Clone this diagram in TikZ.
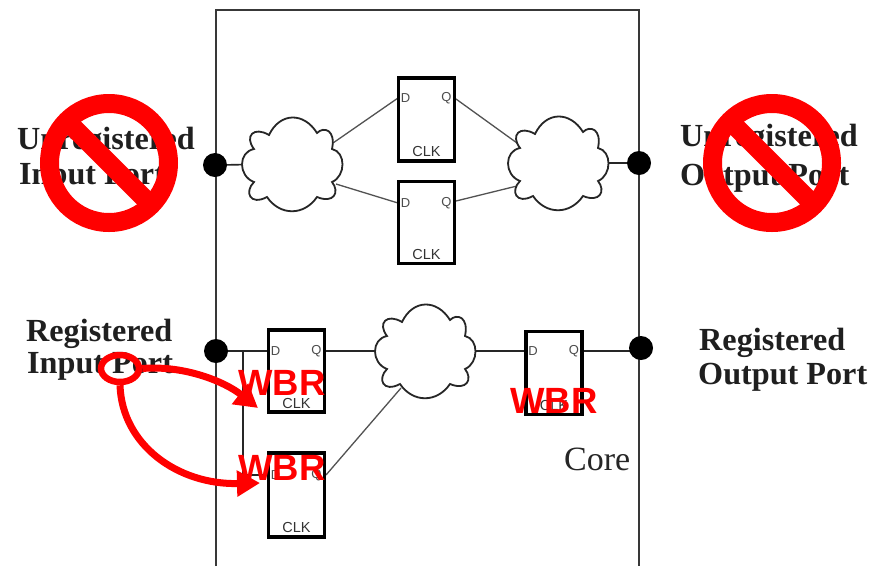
\documentclass[tikz,border=0pt]{standalone}
\usepackage{fontspec}
\setmainfont{Liberation Serif}
\setsansfont{Liberation Sans}
\usetikzlibrary{arrows.meta,shapes.geometric}
\tikzset{
  x=1pt,y=-1pt,
  wire/.style={line width=1.6pt,draw=black!85},
  thinwire/.style={line width=1.3pt,draw=black!68},
  corewall/.style={line width=2.2pt,draw=black!78},
  portdot/.style={circle,fill=black,inner sep=0pt,minimum size=24pt},
  ffbox/.style={draw=black,line width=3.4pt,fill=white,minimum width=56pt,inner sep=0pt,outer sep=0pt},
  pinlabel/.style={font=\fontsize{13}{13}\sffamily,text=black!70,inner sep=0pt},
  clklabel/.style={font=\fontsize{14.5}{14.5}\sffamily,text=black!80,inner sep=0pt},
  cloudline/.style={line width=1.8pt,draw=black!85,fill=white},
  cloudpic/.pic={\path[cloudline] (-23,-29) .. controls (-12,-52) and (12,-52) .. (25,-31)
    .. controls (32,-38) and (44,-34) .. (40,-15)
    .. controls (54,-12) and (54,12) .. (40,18)
    .. controls (48,28) and (42,40) .. (25,33)
    .. controls (12,52) and (-12,52) .. (-25,33)
    .. controls (-42,42) and (-48,28) .. (-38,18)
    .. controls (-54,12) and (-54,-12) .. (-38,-15)
    .. controls (-48,-28) and (-38,-38) .. (-23,-29) -- cycle;},
  porttext/.style={anchor=base west,inner sep=0pt,font=\fontsize{32.2}{32.2}\selectfont\bfseries,text=black!88},
  coretext/.style={anchor=base west,inner sep=0pt,font=\fontsize{34}{34}\selectfont,text=black!85},
  wbr/.style={font=\fontsize{36.5}{36.5}\sffamily\bfseries,text=red,inner sep=0pt},
  nosign/.style={circle,draw=red,line width=19pt,minimum size=119pt,inner sep=0pt,outer sep=0pt},
  nobar/.style={draw=red,line width=19pt},
  redmark/.style={draw=red,line width=6.5pt},
  redarrow/.style={draw=red,line width=7pt,-{Triangle[length=23pt,width=25pt]}},
}
\begin{document}
\begin{tikzpicture}
\useasboundingbox[fill=white] (0,0) rectangle (875,566);
% core outline
\coordinate (cbl) at (216,566);
\coordinate (ctl) at (216,10);
\coordinate (ctr) at (639,10);
\coordinate (cbr) at (639,566);
\draw[corewall] (cbl) -- (ctl) -- (ctr) -- (cbr);
% named points
\coordinate (pA) at (215,165);
\coordinate (pB) at (639,163);
\coordinate (pC) at (216,351);
\coordinate (pD) at (641,351);
\coordinate (cloudA) at (292,164);
\coordinate (cloudB) at (558,163);
\coordinate (cloudC) at (425,351);
\coordinate (cAne) at (333,143);
\coordinate (cAse) at (336,184);
\coordinate (cBnw) at (517,143);
\coordinate (cBsw) at (517,186);
\coordinate (cCsw) at (401,388);
\coordinate (ffAd) at (398,98);
\coordinate (ffAq) at (456,99);
\coordinate (ffBd) at (398,203);
\coordinate (ffBq) at (456,201);
\coordinate (ffCd) at (268,351);
\coordinate (ffCq) at (326,351);
\coordinate (ffDd) at (268,475);
\coordinate (ffDq) at (326,475);
\coordinate (ffEd) at (525,351);
\coordinate (ffEq) at (583,351);
\coordinate (branch) at (243,351);
\coordinate (branchb) at (243,475);
% wires
\draw[wire] (pA) -- (cloudA);
\draw[wire] (cloudB) -- (pB);
\draw[thinwire] (cAne) -- (ffAd);
\draw[thinwire] (cAse) -- (ffBd);
\draw[thinwire] (ffAq) -- (cBnw);
\draw[thinwire] (ffBq) -- (cBsw);
\draw[wire] (pC) -- (ffCd);
\draw[wire] (ffCq) -- (cloudC);
\draw[wire] (cloudC) -- (ffEd);
\draw[wire] (ffEq) -- (pD);
\draw[wire] (branch) -- (branchb) -- (ffDd);
\draw[thinwire] (ffDq) -- (cCsw);
% port dots
\node[portdot] (dotA) at (pA) {};
\node[portdot] (dotB) at (pB) {};
\node[portdot] (dotC) at (pC) {};
\node[portdot] (dotD) at (641,348) {};
% clouds
\pic at (cloudA) {cloudpic};
\pic at (cloudB) {cloudpic};
\pic at (cloudC) {cloudpic};
% flip-flops
\node[ffbox,minimum height=83pt] (ffA) at (426.5,119.5) {};
\node[ffbox,minimum height=82pt] (ffB) at (426.5,222.5) {};
\node[ffbox,minimum height=82pt] (ffC) at (296.5,371) {};
\node[ffbox,minimum height=84pt] (ffD) at (296.5,495) {};
\node[ffbox,minimum height=83pt] (ffE) at (554,373) {};
\foreach \f/\dy/\cy in {ffA/98/152,ffB/203/255,ffC/351/403,ffD/475/527,ffE/351/405}{
  \node[pinlabel] at ([xshift=-21pt]\f.center |- 0,\dy) {D};
  \node[pinlabel] at ([xshift=20pt]\f.center |- 0,\dy) {Q};
  \node[clklabel] at (\f.center |- 0,\cy) {CLK};
}
% labels
\node[porttext] (lblA) at (17,149) {Unregistered};
\node[porttext] (lblB) at (19,184) {Input Port};
\node[porttext] (lblC) at (680,146) {Unregistered};
\node[porttext] (lblD) at (680,185) {Output Port};
\node[porttext] (lblE) at (26,341) {Registered};
\node[porttext] (lblF) at (27,373) {Input Port};
\node[porttext] (lblG) at (699,350) {Registered};
\node[porttext] (lblH) at (698,384) {Output Port};
\node[coretext] (lblCore) at (564,470) {Core};
% forbidden signs
\node[nosign] (noA) at (109,163) {};
\draw[nobar] (noA.135) -- (noA.-45);
\node[nosign] (noB) at (772,163) {};
\draw[nobar] (noB.135) -- (noB.-45);
% red annotation
\node[redmark,ellipse,draw,minimum width=38pt,minimum height=27pt,inner sep=0pt] (mark) at (120,368.5) {};
\coordinate (tipA) at (258,408);
\coordinate (tipB) at (260,483);
\draw[redarrow] (mark.east) .. controls (185,365) and (225,382) .. (tipA);
\draw[redarrow] (mark.south) .. controls (122,445) and (178,485) .. (tipB);
\node[wbr] (wbrA) at (282,383) {WBR};
\node[wbr] (wbrB) at (282,468) {WBR};
\node[wbr] (wbrC) at (554,401) {WBR};
\end{tikzpicture}
\end{document}
